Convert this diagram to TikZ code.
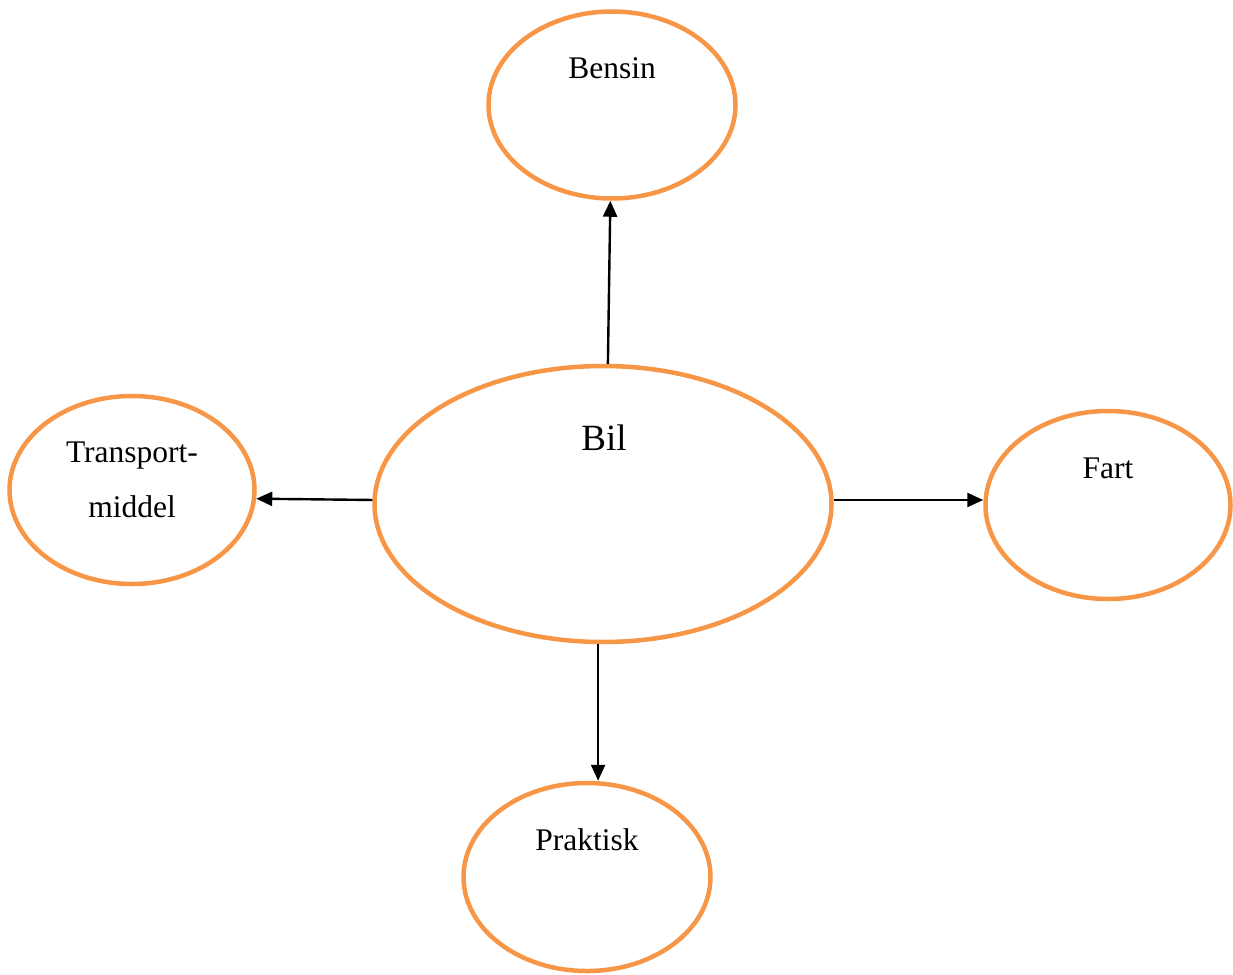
\documentclass[tikz,border=0pt]{standalone}
\usepackage{fontspec}
\setmainfont{Liberation Serif}
\usetikzlibrary{shapes.geometric,arrows.meta}
\definecolor{borange}{RGB}{247,150,70}
\tikzset{
  bubble/.style={ellipse, draw=borange, line width=4.5pt, inner sep=0pt},
  lbl/.style={inner sep=0pt, font=\fontsize{31.5}{55}\selectfont, align=center},
  conn/.style={line width=2.4pt, -{Triangle[length=16pt,width=14pt]}}
}
\begin{document}
\begin{tikzpicture}[x=1pt,y=-1pt]
\useasboundingbox (0,0) rectangle (1233,974);
\node[bubble, minimum width=247pt, minimum height=187pt] (bensin) at (612,105) {};
\node[bubble, minimum width=457pt, minimum height=276pt] (bil) at (603,504) {};
\node[bubble, minimum width=245pt, minimum height=188pt] (trans) at (132,490) {};
\node[bubble, minimum width=245pt, minimum height=188pt] (fart) at (1108,505) {};
\node[bubble, minimum width=247pt, minimum height=188pt] (prak) at (587,877) {};
\node[lbl] (tbensin) at (612,68) {Bensin};
\node[lbl, font=\fontsize{37}{40}\selectfont] (tbil) at (604,438) {Bil};
\node[lbl] (ttrans) at (132,480) {Transport-\\middel};
\node[lbl] (tfart) at (1108,468) {Fart};
\node[lbl] (tprak) at (587,840) {Praktisk};
\draw[conn] (bil.88) -- (bensin.-91);
\draw[conn] (bil.179) -- (trans.-4);
\draw[conn] (bil.1.4) -- (fart.west |- bil.1.4);
\draw[conn] (bil.-92.5) -- (bil.-92.5 |- prak.north);
\end{tikzpicture}
\end{document}
